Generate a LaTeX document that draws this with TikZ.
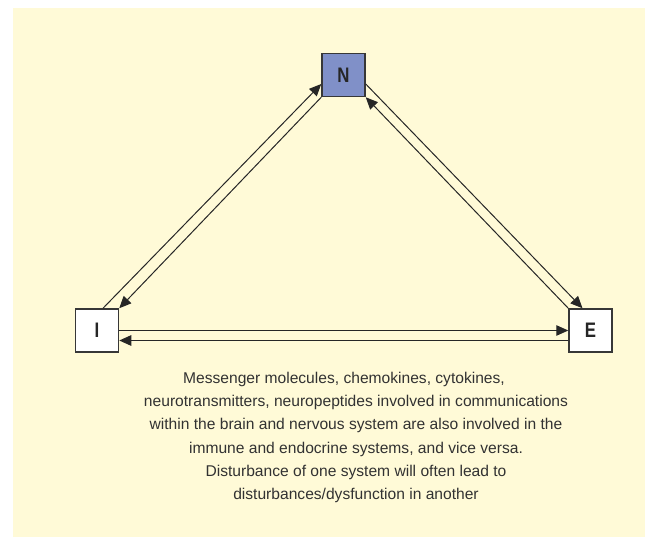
\documentclass[tikz,border=0pt]{standalone}
\usepackage{fontspec}
\setmainfont{Liberation Sans}
\newfontfamily\lblfont{Liberation Sans}[FakeStretch=0.8]
\usetikzlibrary{arrows.meta}
\definecolor{bgyellow}{RGB}{255,250,215}
\definecolor{nblue}{RGB}{128,144,200}
\definecolor{txtgray}{RGB}{50,50,50}
\definecolor{boxline}{RGB}{55,55,55}
\tikzset{
  sysbox/.style={draw=boxline, line width=1.5pt, fill=white, minimum width=43pt, minimum height=43pt, inner sep=0pt,
    font=\lblfont\bfseries\fontsize{21}{21}\selectfont, text=black!85},
  arr/.style={line width=1pt, draw=black!85, -{Triangle[length=12pt,width=10.5pt]}},
  caption/.style={align=center, text=txtgray, font=\fontsize{15.6}{23.3}\selectfont, inner sep=0pt}
}
\begin{document}
\begin{tikzpicture}[x=1pt,y=-1pt]
\useasboundingbox (0,0) rectangle (650,537);
\fill[bgyellow] (13,8) rectangle (645,537);
\node[sysbox, fill=nblue] (N) at (343.5,75) {N};
\node[sysbox] (I) at (97,330.5) {I};
\node[sysbox] (E) at (590.5,330.5) {E};
\draw[arr] ([xshift=6pt]I.north) -- ([yshift=-9pt]N.west);
\draw[arr] (N.south west) -- (I.north east);
\draw[arr] ([yshift=-9pt]N.east) -- ([xshift=-8pt]E.north);
\draw[arr] (E.north west) -- (N.south east);
\draw[arr] (I.east) -- (E.west);
\draw[arr] ([yshift=-10pt]E.west) -- ([yshift=-10pt]I.east);
\node[caption] (cap) at (356,437.5) {Messenger molecules, chemokines, cytokines,\hspace*{24pt}\\
neurotransmitters, neuropeptides involved in communications\\
within the brain and nervous system are also involved in the\\
immune and endocrine systems, and vice versa.\\
Disturbance of one system will often lead to\\
disturbances/dysfunction in another};
\end{tikzpicture}
\end{document}
